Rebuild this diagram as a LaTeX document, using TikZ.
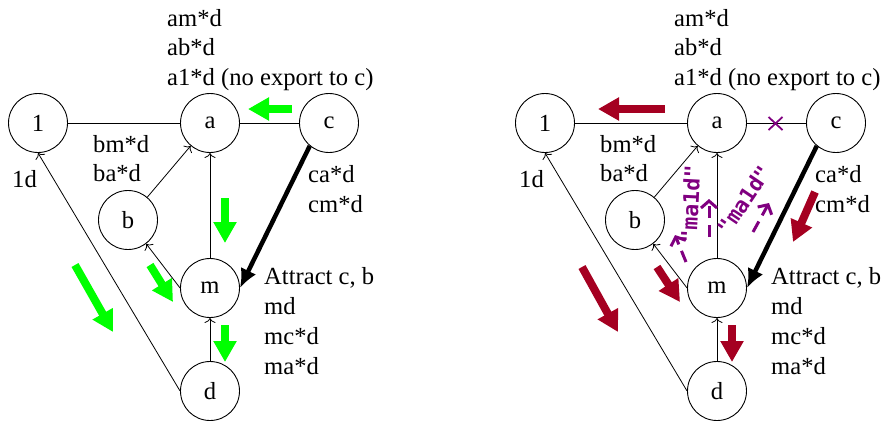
\documentclass[tikz,border=0pt]{standalone}
\usepackage{fontspec}
\setmainfont{Liberation Serif}
\newfontfamily\monofnt{DejaVu Sans Mono}
\usetikzlibrary{arrows.meta}
\definecolor{brightgreen}{RGB}{0,255,0}
\definecolor{darkred}{RGB}{165,0,33}
\definecolor{purp}{RGB}{128,0,128}
\begin{document}
\begin{tikzpicture}[x=1pt,y=-1pt,
  vtx/.style={circle,draw,line width=0.9pt,minimum size=59pt,inner sep=0pt,font=\fontsize{24.6}{29.5}\selectfont},
  lbl/.style={anchor=base west,inner sep=0pt,font=\fontsize{24.6}{29.5}\selectfont},
  plainedge/.style={line width=0.8pt},
  thinarr/.style={line width=0.8pt,-{To[length=5pt,width=11pt]}},
  heavyarr/.style={line width=4.5pt,-{Latex[length=19pt,width=17pt]}},
  blockarr/.style={line width=8pt,-{Triangle[length=21pt,width=22pt]}},
  purparr/.style={purp,line width=3pt,dash pattern=on 12pt off 7pt,-{Straight Barb[length=7pt,width=16pt]}},
  purplbl/.style={purp,inner sep=0pt,font=\monofnt\bfseries\fontsize{21.5}{25}\selectfont}
]
\useasboundingbox (0,0) rectangle (885,424);
\foreach \s/\p in {0/L,507/R}{
  \begin{scope}[xshift=\s pt]
    \node[vtx] (one\p) at (38,123) {1};
    \node[vtx] (a\p) at (210,123) {a};
    \node[vtx] (c\p) at (329,123) {c};
    \node[vtx] (b\p) at (128,220) {b};
    \node[vtx] (m\p) at (210,288) {m};
    \node[vtx] (d\p) at (210,391) {d};
    \draw[plainedge] (one\p) -- (a\p);
    \draw[plainedge] (a\p) -- (c\p);
    \draw[thinarr] (b\p) -- (a\p);
    \draw[thinarr] (m\p) -- (a\p);
    \draw[thinarr] (m\p.west) -- (b\p);
    \draw[thinarr] (d\p) -- (m\p);
    \draw[thinarr] (d\p.west) -- (one\p.south);
    \draw[heavyarr] (c\p.230) -- (m\p.east);
    \node[lbl] (am\p) at (167,26) {am*d};
    \node[lbl] (ab\p) at (167,55.5) {ab*d};
    \node[lbl] (aone\p) at (167,85) {a1*d (no export to c)};
    \node[lbl] (bm\p) at (93,152) {bm*d};
    \node[lbl] (ba\p) at (93,181) {ba*d};
    \node[lbl] (oned\p) at (12,187) {1d};
    \node[lbl] (ca\p) at (308,182) {ca*d};
    \node[lbl] (cm\p) at (308,212) {cm*d};
    \node[lbl] (attr\p) at (264,284) {Attract c, b};
    \node[lbl] (md\p) at (264,314) {md};
    \node[lbl] (mc\p) at (264,344) {mc*d};
    \node[lbl] (ma\p) at (264,374) {ma*d};
  \end{scope}
}
% green arrows (left)
\coordinate (g1s) at (292,109); \coordinate (g1e) at (248,109);
\coordinate (g2s) at (225,198); \coordinate (g2e) at (225,243);
\coordinate (g3s) at (150,265); \coordinate (g3e) at (173,302);
\coordinate (g4s) at (225,325); \coordinate (g4e) at (225,362);
\coordinate (g5s) at (75,265);  \coordinate (g5e) at (113,332);
\foreach \i in {1,...,5}{\draw[blockarr,brightgreen] (g\i s) -- (g\i e);}
% red arrows (right)
\coordinate (r1s) at (665,109); \coordinate (r1e) at (598,109);
\coordinate (r2s) at (815,192); \coordinate (r2e) at (793,242);
\coordinate (r3s) at (657,267); \coordinate (r3e) at (680,302);
\coordinate (r4s) at (732,325); \coordinate (r4e) at (732,362);
\coordinate (r5s) at (582,267); \coordinate (r5e) at (618,332);
\foreach \i in {1,...,5}{\draw[blockarr,darkred] (r\i s) -- (r\i e);}
% purple cross on a--c
\coordinate (xc) at (775.5,123.5);
\draw[purp,line width=1.8pt] ([shift={(-7,-6.5)}]xc) -- ([shift={(7,6.5)}]xc)
  ([shift={(-7,6.5)}]xc) -- ([shift={(7,-6.5)}]xc);
% purple dashed arrows
\coordinate (p1s) at (686,262); \coordinate (p1e) at (675,235);
\coordinate (p2s) at (709,237); \coordinate (p2e) at (709,199);
\coordinate (p3s) at (753,232); \coordinate (p3e) at (769,203);
\draw[purparr] (p1s) -- (p1e);
\draw[purparr] (p2s) -- (p2e);
\draw[purparr] (p3s) -- (p3e);
\node[purplbl,rotate=87] (pl1) at (690.5,204) {"ma1d"};
\node[purplbl,rotate=56] (pl2) at (744,200) {"ma1d"};
\end{tikzpicture}
\end{document}
